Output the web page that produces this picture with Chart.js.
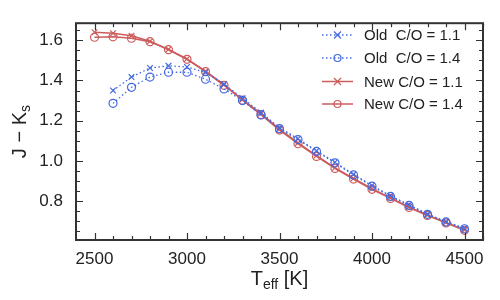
<!DOCTYPE html>
<html>
<head>
<meta charset="utf-8">
<script src="https://cdn.jsdelivr.net/npm/chart.js@4"></script>
<style>
  html, body { margin: 0; padding: 0; background: #fff; }
  #wrap { width: 500px; height: 300px; }
</style>
</head>
<body>
<div id="wrap"><canvas id="jkChart"></canvas></div>
<script>
// Teff grid (K)
const teffNew = [2500, 2600, 2700, 2800, 2900, 3000, 3100, 3200, 3300, 3400, 3500,
                 3600, 3700, 3800, 3900, 4000, 4100, 4200, 4300, 4400, 4500];
const teffOld = teffNew.slice(1);

// J - Ks values
const oldCO11 = [1.350, 1.417, 1.462, 1.473, 1.467, 1.440, 1.382, 1.312, 1.240, 1.165,
                 1.110, 1.050, 0.993, 0.933, 0.877, 0.826, 0.781, 0.736, 0.698, 0.664];
const oldCO14 = [1.286, 1.366, 1.417, 1.441, 1.441, 1.406, 1.358, 1.300, 1.228, 1.160,
                 1.106, 1.047, 0.990, 0.930, 0.874, 0.823, 0.778, 0.734, 0.696, 0.662];
const newCO11 = [1.640, 1.635, 1.623, 1.595, 1.555, 1.507, 1.446, 1.379, 1.305, 1.235, 1.158,
                 1.089, 1.026, 0.965, 0.912, 0.861, 0.816, 0.770, 0.730, 0.693, 0.656];
const newCO14 = [1.615, 1.617, 1.610, 1.593, 1.553, 1.505, 1.444, 1.376, 1.302, 1.230, 1.153,
                 1.085, 1.022, 0.962, 0.909, 0.858, 0.813, 0.768, 0.728, 0.691, 0.654];

const xTicks = [2500, 3000, 3500, 4000, 4500];
const yTicks = [0.8, 1.0, 1.2, 1.4, 1.6];
const seriesLabels = ['Old  C/O = 1.1', 'Old  C/O = 1.4', 'New C/O = 1.1', 'New C/O = 1.4'];

const BLUE = '#4169e1';
const RED = '#cd5c5c';
const INK = '#333333';
const FONT = '"Liberation Sans", Arial, sans-serif';

function pts(xs, ys) {
  return xs.map((x, i) => ({ x: x, y: ys[i] }));
}

// inward ticks, frame and mirrored ticks
const framePlugin = {
  id: 'frame',
  afterDatasetsDraw(chart) {
    const ctx = chart.ctx;
    const a = chart.chartArea;
    const xs = chart.scales.x, ys = chart.scales.y;
    ctx.save();
    ctx.strokeStyle = INK;
    ctx.lineWidth = 1.2;
    ctx.beginPath();
    for (let v = 2500; v <= 4600; v += 100) {
      const px = Math.round(xs.getPixelForValue(v)) + 0.5;
      const len = v % 500 === 0 ? 7 : 4;
      ctx.moveTo(px, a.bottom); ctx.lineTo(px, a.bottom - len);
      ctx.moveTo(px, a.top); ctx.lineTo(px, a.top + len);
    }
    for (let k = 13; k <= 33; k++) {
      const v = k * 0.05;
      const py = Math.round(ys.getPixelForValue(v)) + 0.5;
      const len = k % 4 === 0 ? 7 : 4;
      ctx.moveTo(a.left, py); ctx.lineTo(a.left + len, py);
      ctx.moveTo(a.right, py); ctx.lineTo(a.right - len, py);
    }
    ctx.stroke();
    ctx.lineWidth = 2;
    ctx.strokeRect(a.left, a.top, a.right - a.left, a.bottom - a.top);

    // axis titles with subscripts
    ctx.fillStyle = '#222';
    ctx.textBaseline = 'alphabetic';
    const cx = (a.left + a.right) / 2;
    ctx.font = '20px ' + FONT;
    const wT = ctx.measureText('T').width;
    ctx.font = '14px ' + FONT;
    const wSub = ctx.measureText('eff').width;
    ctx.font = '20px ' + FONT;
    const wK = ctx.measureText(' [K]').width;
    let x0 = cx - (wT + wSub + wK) / 2;
    const base = 285;
    ctx.fillText('T', x0, base);
    ctx.font = '14px ' + FONT;
    ctx.fillText('eff', x0 + wT, base + 4);
    ctx.font = '20px ' + FONT;
    ctx.fillText(' [K]', x0 + wT + wSub, base);

    ctx.save();
    ctx.translate(26, (a.top + a.bottom) / 2);
    ctx.rotate(-Math.PI / 2);
    ctx.font = '20px ' + FONT;
    const wJ = ctx.measureText('J \u2212 K').width;
    ctx.font = '14px ' + FONT;
    const wS = ctx.measureText('s').width;
    let y0 = -(wJ + wS) / 2;
    ctx.font = '20px ' + FONT;
    ctx.fillText('J \u2212 K', y0, 0);
    ctx.font = '14px ' + FONT;
    ctx.fillText('s', y0 + wJ, 4);
    ctx.restore();

    // legend
    const rows = [35, 58, 81.5, 104];
    chart.data.datasets.forEach((ds, i) => {
      const y = rows[i];
      ctx.strokeStyle = ds.borderColor;
      ctx.lineWidth = ds.borderWidth;
      ctx.setLineDash(ds.borderDash || []);
      ctx.beginPath();
      ctx.moveTo(322, y); ctx.lineTo(353, y);
      ctx.stroke();
      ctx.setLineDash([]);
      ctx.lineWidth = 1.2;
      ctx.beginPath();
      if (ds.pointStyle === 'crossRot') {
        ctx.moveTo(337.5 - 3.5, y - 3.5); ctx.lineTo(337.5 + 3.5, y + 3.5);
        ctx.moveTo(337.5 - 3.5, y + 3.5); ctx.lineTo(337.5 + 3.5, y - 3.5);
      } else {
        ctx.arc(337.5, y, 3.5, 0, Math.PI * 2);
      }
      ctx.stroke();
      ctx.fillStyle = '#222';
      ctx.font = '15px ' + FONT;
      ctx.textBaseline = 'middle';
      ctx.fillText(ds.label, 364, y + 1);
    });
    ctx.restore();
  }
};

function makeSet(label, xs, ys, color, style, dotted) {
  return {
    label: label,
    data: pts(xs, ys),
    borderColor: color,
    backgroundColor: 'rgba(0,0,0,0)',
    borderWidth: dotted ? 1.3 : 1.5,
    borderDash: dotted ? [1.5, 2.5] : [],
    pointStyle: style,
    pointRadius: 4,
    pointBorderWidth: 1.2,
    pointBorderColor: color,
    pointBackgroundColor: 'rgba(0,0,0,0)',
    tension: 0
  };
}

new Chart(document.getElementById('jkChart'), {
  type: 'line',
  data: {
    datasets: [
      makeSet(seriesLabels[0], teffOld, oldCO11, BLUE, 'crossRot', true),
      makeSet(seriesLabels[1], teffOld, oldCO14, BLUE, 'circle', true),
      makeSet(seriesLabels[2], teffNew, newCO11, RED, 'crossRot', false),
      makeSet(seriesLabels[3], teffNew, newCO14, RED, 'circle', false)
    ]
  },
  options: {
    responsive: true,
    maintainAspectRatio: false,
    animation: false,
    layout: { padding: { top: 15, right: 17, left: 0, bottom: 0 } },
    plugins: { legend: { display: false }, tooltip: { enabled: false } },
    scales: {
      x: {
        type: 'linear',
        min: 2400,
        max: 4600,
        afterBuildTicks: s => { s.ticks = xTicks.map(v => ({ value: v })); },
        afterFit: s => { s.height = 60; },
        grid: { display: false, drawTicks: false },
        border: { display: false },
        ticks: {
          padding: 9,
          maxRotation: 0,
          autoSkip: false,
          color: '#222',
          font: { family: FONT, size: 17 },
          callback: v => String(v)
        }
      },
      y: {
        type: 'linear',
        min: 0.606,
        max: 1.685,
        afterBuildTicks: s => { s.ticks = yTicks.map(v => ({ value: v })); },
        afterFit: s => { s.width = 76; },
        grid: { display: false, drawTicks: false },
        border: { display: false },
        ticks: {
          padding: 13,
          autoSkip: false,
          color: '#222',
          font: { family: FONT, size: 17 },
          callback: v => v.toFixed(1)
        }
      }
    }
  },
  plugins: [framePlugin]
});
</script>
</body>
</html>
